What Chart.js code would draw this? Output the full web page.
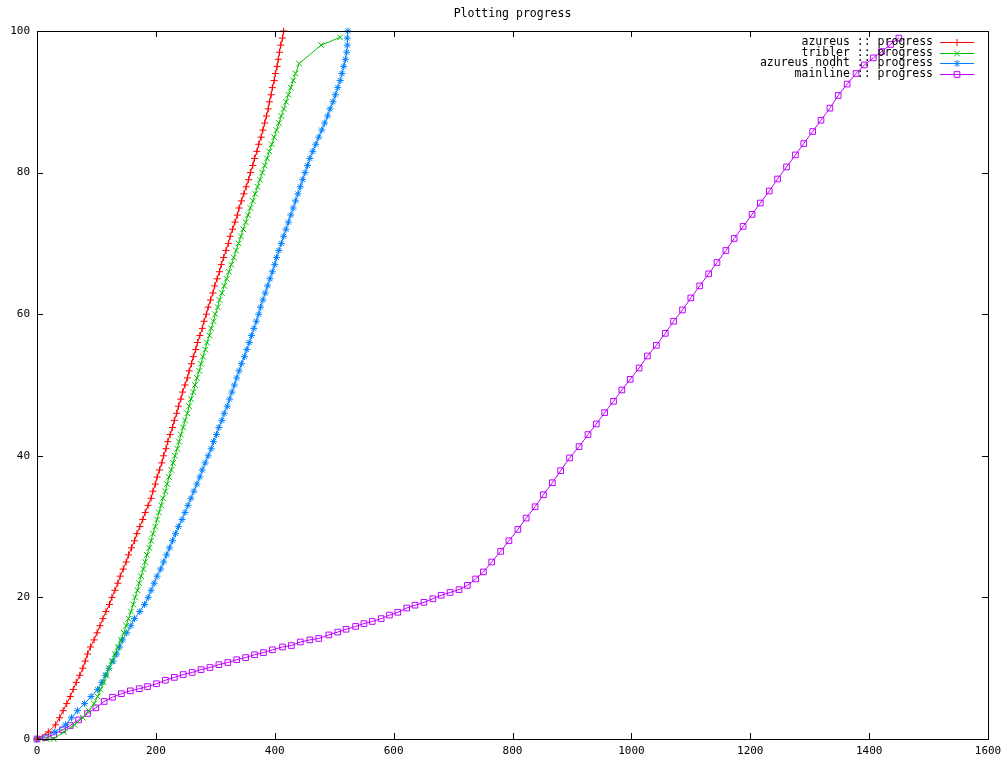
<!DOCTYPE html>
<html>
<head>
<meta charset="utf-8">
<title>Plotting progress</title>
<script src="https://cdn.jsdelivr.net/npm/chart.js@4.4.1/dist/chart.umd.min.js"></script>
<style>
  html, body { margin: 0; padding: 0; background: #fff; }
  #wrap { width: 1007px; height: 758px; }
</style>
</head>
<body>
<div id="wrap"><canvas id="progressChart" width="1007" height="758"></canvas></div>
<script>
// x ticks and y ticks
var timeTicks = [0, 200, 400, 600, 800, 1000, 1200, 1400, 1600];
var progressTicks = [0, 20, 40, 60, 80, 100];

// progress levels shared by azureus and azureus nodht
var percentSteps = [0, 1, 2, 3, 4, 5, 6, 7, 8, 9,
  10, 11, 12, 13, 14, 15, 16, 17, 18, 19,
  20, 21, 22, 23, 24, 25, 26, 27, 28, 29,
  30, 31, 32, 33, 34, 35, 36, 37, 38, 39,
  40, 41, 42, 43, 44, 45, 46, 47, 48, 49,
  50, 51, 52, 53, 54, 55, 56, 57, 58, 59,
  60, 61, 62, 63, 64, 65, 66, 67, 68, 69,
  70, 71, 72, 73, 74, 75, 76, 77, 78, 79,
  80, 81, 82, 83, 84, 85, 86, 87, 88, 89,
  90, 91, 92, 93, 94, 95, 96, 97, 98, 99,
  100];

// azureus :: progress
var azureusTime = [0, 19, 31, 38, 44, 50, 56, 61, 66, 72,
  77, 81, 85, 90, 96, 101, 106, 111, 116, 122,
  126, 131, 136, 140, 145, 150, 154, 159, 164, 168,
  173, 178, 182, 187, 192, 195, 199, 202, 206, 210,
  213, 217, 220, 224, 228, 231, 235, 238, 242, 245,
  249, 253, 256, 260, 263, 267, 270, 274, 278, 281,
  285, 288, 292, 296, 299, 303, 307, 310, 314, 318,
  322, 325, 329, 333, 337, 340, 344, 348, 352, 356,
  359, 363, 366, 370, 373, 377, 380, 383, 386, 389,
  391, 394, 396, 399, 401, 404, 406, 408, 410, 413,
  415];

// tribler :: progress
var triblerTime = [16, 28, 45, 63, 77, 87, 96, 102, 107, 112,
  117, 121, 126, 131, 136, 141, 146, 150, 154, 158,
  162, 165, 169, 172, 175, 179, 182, 185, 189, 192,
  195, 199, 202, 205, 209, 212, 216, 219, 222, 226,
  229, 232, 236, 239, 242, 246, 249, 253, 256, 259,
  263, 266, 269, 273, 276, 279, 283, 286, 290, 293,
  297, 300, 304, 307, 311, 315, 319, 323, 327, 331,
  335, 339, 343, 347, 351, 355, 359, 363, 367, 371,
  375, 379, 383, 387, 391, 395, 399, 403, 407, 411,
  415, 419, 423, 427, 431, 435, 441, 478, 510];
var triblerProgress = [0, 0, 1, 2, 3, 4, 5, 6, 7, 8,
  9, 10, 11, 12, 13, 14, 15, 16, 17, 18,
  19, 20, 21, 22, 23, 24, 25, 26, 27, 28,
  29, 30, 31, 32, 33, 34, 35, 36, 37, 38,
  39, 40, 41, 42, 43, 44, 45, 46, 47, 48,
  49, 50, 51, 52, 53, 54, 55, 56, 57, 58,
  59, 60, 61, 62, 63, 64, 65, 66, 67, 68,
  69, 70, 71, 72, 73, 74, 75, 76, 77, 78,
  79, 80, 81, 82, 83, 84, 85, 86, 87, 88,
  89, 90, 91, 92, 93, 94, 95.4, 98, 99.1];

// azureus nodht :: progress
var nodhtTime = [0, 30, 48, 58, 68, 80, 91, 102, 109, 115,
  121, 128, 134, 139, 144, 151, 158, 164, 173, 181,
  187, 192, 197, 202, 208, 213, 218, 223, 228, 233,
  238, 244, 249, 254, 259, 264, 269, 274, 278, 283,
  288, 293, 297, 302, 306, 311, 315, 320, 324, 328,
  332, 336, 340, 344, 349, 353, 357, 361, 365, 369,
  373, 376, 380, 384, 388, 392, 396, 400, 403, 407,
  411, 415, 419, 423, 427, 431, 435, 439, 443, 447,
  451, 455, 459, 464, 469, 474, 479, 484, 489, 493,
  498, 502, 506, 510, 513, 516, 519, 521, 522, 522,
  523];

// mainline :: progress
var mainlineTime = [0, 14, 28, 43, 56, 70, 85, 99, 113, 127,
  142, 157, 172, 186, 201, 216, 231, 246, 261, 276,
  291, 306, 321, 336, 351, 366, 381, 396, 413, 428,
  443, 459, 474, 491, 506, 520, 536, 550, 564, 579,
  593, 607, 622, 636, 651, 666, 680, 695, 710, 724,
  738, 751, 765, 780, 794, 809, 823, 838, 852, 867,
  881, 896, 912, 927, 941, 955, 970, 984, 998, 1013,
  1027, 1042, 1057, 1071, 1086, 1100, 1115, 1130, 1144, 1159,
  1173, 1188, 1203, 1217, 1232, 1246, 1261, 1276, 1290, 1305,
  1319, 1334, 1348, 1363, 1378, 1392, 1407, 1421, 1436, 1450];
var mainlineProgress = [0, 0.2, 0.6, 1.3, 1.9, 2.7, 3.6, 4.4, 5.3, 5.9,
  6.4, 6.8, 7.1, 7.4, 7.8, 8.3, 8.7, 9.1, 9.4, 9.8,
  10.1, 10.5, 10.8, 11.2, 11.5, 11.9, 12.2, 12.6, 13.0, 13.2,
  13.7, 14.0, 14.2, 14.7, 15.1, 15.5, 15.9, 16.3, 16.6, 17.0,
  17.5, 17.9, 18.5, 18.9, 19.3, 19.8, 20.3, 20.7, 21.1, 21.7,
  22.6, 23.6, 25.0, 26.5, 28.0, 29.6, 31.2, 32.8, 34.5, 36.2,
  37.9, 39.7, 41.3, 43.0, 44.5, 46.1, 47.7, 49.3, 50.8, 52.4,
  54.1, 55.6, 57.3, 59.0, 60.6, 62.3, 64.0, 65.7, 67.3, 69.0,
  70.7, 72.4, 74.1, 75.7, 77.4, 79.1, 80.8, 82.5, 84.1, 85.8,
  87.4, 89.1, 90.9, 92.5, 94.0, 95.2, 96.2, 97.1, 98.1, 99.0];

var monoFont = "'DejaVu Sans Mono', 'Liberation Mono', monospace";

function toPoints(xs, ys) {
  var pts = [];
  for (var i = 0; i < xs.length; i++) {
    pts.push({ x: xs[i], y: ys[i] });
  }
  return pts;
}

function series(label, xs, ys, color, style, radius) {
  return {
    label: label,
    data: toPoints(xs, ys),
    borderColor: color,
    backgroundColor: color,
    borderWidth: 1,
    pointStyle: style,
    pointRadius: radius,
    pointBorderColor: color,
    pointBackgroundColor: 'rgba(0,0,0,0)',
    pointBorderWidth: 1,
    tension: 0,
    clip: false
  };
}

// gnuplot-like frame: box and inward ticks on all four sides
var framePlugin = {
  id: 'frame',
  afterDatasetsDraw: function(chart) {
    var ctx = chart.ctx;
    var a = chart.chartArea;
    var sx = chart.scales.x, sy = chart.scales.y;
    var len = 6;
    ctx.save();
    ctx.strokeStyle = '#000';
    ctx.lineWidth = 1;
    ctx.beginPath();
    timeTicks.forEach(function(v) {
      var px = Math.round(sx.getPixelForValue(v)) + 0.5;
      ctx.moveTo(px, a.bottom);
      ctx.lineTo(px, a.bottom - len);
      ctx.moveTo(px, a.top);
      ctx.lineTo(px, a.top + len);
    });
    progressTicks.forEach(function(v) {
      var py = Math.round(sy.getPixelForValue(v)) + 0.5;
      ctx.moveTo(a.left, py);
      ctx.lineTo(a.left + len, py);
      ctx.moveTo(a.right, py);
      ctx.lineTo(a.right - len, py);
    });
    ctx.stroke();
    ctx.strokeRect(Math.round(a.left) + 0.5, Math.round(a.top) + 0.5,
      Math.round(a.right - a.left), Math.round(a.bottom - a.top));
    ctx.restore();
  }
};

// key in the top right corner: text right aligned, sample to its right
var keyPlugin = {
  id: 'gnuKey',
  afterDraw: function(chart) {
    var ctx = chart.ctx;
    var textRight = 933, lineL = 940, lineR = 974, top = 42, step = 10.7;
    ctx.save();
    ctx.font = '11.5px ' + monoFont;
    ctx.textAlign = 'right';
    ctx.textBaseline = 'middle';
    chart.data.datasets.forEach(function(ds, i) {
      var y = Math.round(top + i * step) + 0.5;
      ctx.fillStyle = '#000';
      ctx.fillText(ds.label, textRight, y);
      ctx.strokeStyle = ds.borderColor;
      ctx.lineWidth = 1;
      ctx.beginPath();
      ctx.moveTo(lineL, y);
      ctx.lineTo(lineR, y);
      ctx.stroke();
      ctx.fillStyle = 'rgba(0,0,0,0)';
      Chart.helpers.drawPoint(ctx, {
        pointStyle: ds.pointStyle,
        radius: ds.pointRadius,
        rotation: 0,
        borderWidth: 1
      }, (lineL + lineR) / 2, y);
    });
    ctx.restore();
  }
};

new Chart(document.getElementById('progressChart'), {
  type: 'line',
  data: {
    datasets: [
      series('azureus :: progress', azureusTime, percentSteps, '#ff0000', 'cross', 3.5),
      series('tribler :: progress', triblerTime, triblerProgress, '#00c000', 'crossRot', 4),
      series('azureus nodht :: progress', nodhtTime, percentSteps, '#0080ff', 'star', 3.5),
      series('mainline :: progress', mainlineTime, mainlineProgress, '#c000ff', 'rect', 4)
    ]
  },
  options: {
    responsive: false,
    animation: false,
    layout: { padding: { left: 0, right: 19, top: 0, bottom: 0 } },
    plugins: {
      legend: { display: false },
      tooltip: { enabled: false },
      title: {
        display: true,
        fullSize: false,
        text: 'Plotting progress',
        color: '#000',
        font: { family: monoFont, size: 11.5, weight: 'normal', lineHeight: 1.2 },
        padding: { top: 7.5, bottom: 9.7 }
      }
    },
    scales: {
      x: {
        type: 'linear',
        min: 0,
        max: 1600,
        afterFit: function(s) {
          s.height = 19;
          s.paddingRight = 0;
          s.paddingLeft = 0;
        },
        afterBuildTicks: function(s) {
          s.ticks = timeTicks.map(function(v) { return { value: v }; });
        },
        grid: { display: false, drawTicks: false },
        border: { display: false },
        ticks: {
          color: '#000',
          padding: 6,
          maxRotation: 0,
          font: { family: monoFont, size: 11 },
          callback: function(v) { return String(v); }
        }
      },
      y: {
        type: 'linear',
        min: 0,
        max: 100,
        afterFit: function(s) {
          s.width = 37;
          s.paddingTop = 0;
          s.paddingBottom = 0;
        },
        afterBuildTicks: function(s) {
          s.ticks = progressTicks.map(function(v) { return { value: v }; });
        },
        grid: { display: false, drawTicks: false },
        border: { display: false },
        ticks: {
          color: '#000',
          padding: 7,
          font: { family: monoFont, size: 11 },
          callback: function(v) { return String(v); }
        }
      }
    }
  },
  plugins: [framePlugin, keyPlugin]
});
</script>
</body>
</html>
